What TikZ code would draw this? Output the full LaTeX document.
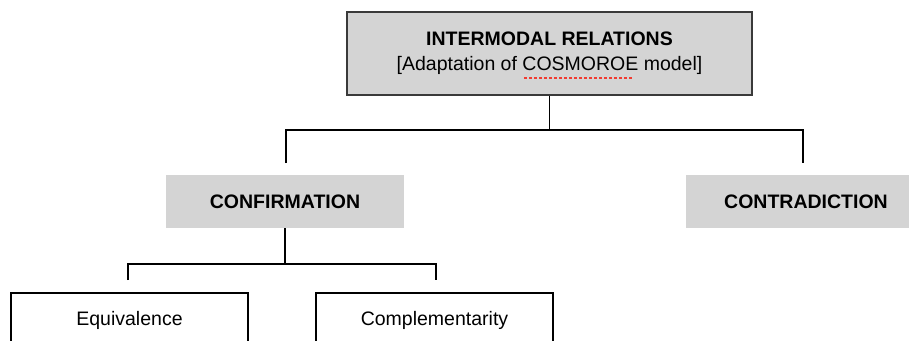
\documentclass[tikz,border=0pt]{standalone}
\usepackage{fontspec}
\setmainfont{Liberation Sans}
\usetikzlibrary{calc}
\definecolor{boxgray}{HTML}{D4D4D4}
\definecolor{edgegray}{HTML}{3A3A3A}
\definecolor{spellred}{HTML}{F03C32}
\tikzset{
  txt/.style={font=\fontsize{19.5}{25}\selectfont, inner sep=0pt, align=center},
  topbox/.style={txt, fill=boxgray, draw=edgegray, line width=1.4pt, minimum width=405pt, minimum height=83pt},
  graybox/.style={txt, fill=boxgray, minimum width=#1, minimum height=53pt},
  whitebox/.style={txt, draw=black, line width=1.4pt, minimum width=237pt, minimum height=54pt},
  conn/.style={line width=1.8pt, draw=black}
}
\begin{document}
\begin{tikzpicture}[x=1pt,y=-1pt]
\useasboundingbox (0,0) rectangle (909,340);
\clip (0,0) rectangle (909,340);
\node[topbox] (top) at (549.5,53.5) {\textbf{INTERMODAL RELATIONS}\\{}[Adaptation of COSMOROE model]};
\node[graybox=238pt] (conf) at (285,201.5) {\textbf{CONFIRMATION}};
\node[graybox=240pt] (contr) at (806,201.5) {\textbf{CONTRADICTION}};
\node[whitebox] (equiv) at (129.5,320) {Equivalence};
\node[whitebox] (compl) at (434.5,320) {Complementarity};
% red spell-check underline
\coordinate (s1) at (524,78);
\coordinate (s2) at (633,78);
\draw[spellred, line width=2.2pt, dash pattern=on 3pt off 2pt] (s1) -- (s2);
% first level
\coordinate (h1) at (549.5,130);
\coordinate (t1) at (286,163);
\coordinate (t2) at (803,163);
\draw[conn] (top.south) -- (h1);
\draw[conn] (t1) |- (h1) -| (t2);
% second level
\coordinate (h2) at (285,264);
\coordinate (t3) at (128,280);
\coordinate (t4) at (436,280);
\draw[conn] (conf.south) -- (h2);
\draw[conn] (t3) |- (h2) -| (t4);
\end{tikzpicture}
\end{document}
